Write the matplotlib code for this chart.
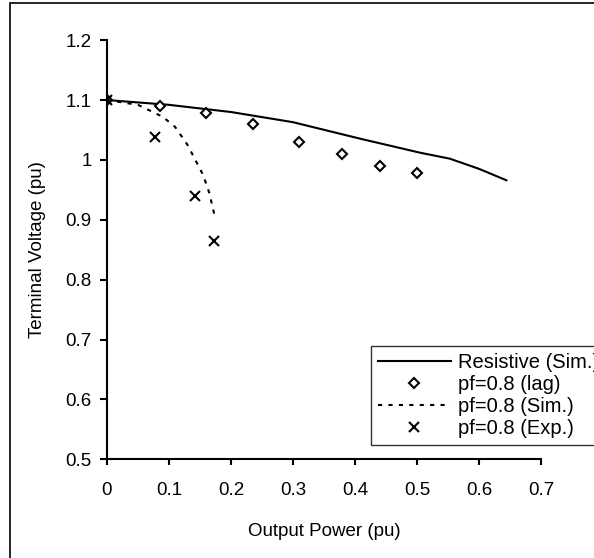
import matplotlib.pyplot as plt
from matplotlib.patches import Rectangle

plt.rcParams['font.family'] = ['Liberation Sans', 'DejaVu Sans']

# Resistive load, simulation
res_p = [0.0, 0.1, 0.2, 0.3, 0.41, 0.505, 0.553, 0.6, 0.644]
res_v = [1.1, 1.092, 1.08, 1.063, 1.035, 1.012, 1.002, 0.985, 0.966]

# pf = 0.8 lagging
lag_p = [0.0, 0.085, 0.16, 0.235, 0.31, 0.379, 0.44, 0.5]
lag_v = [1.1, 1.09, 1.078, 1.06, 1.03, 1.01, 0.99, 0.978]

# pf = 0.8 simulation
sim_p = [0.0, 0.05, 0.09, 0.11, 0.13, 0.145, 0.155, 0.165, 0.174]
sim_v = [1.1, 1.092, 1.072, 1.055, 1.025, 0.995, 0.975, 0.945, 0.905]

# pf = 0.8 experiment
exp_p = [0.0, 0.077, 0.142, 0.173]
exp_v = [1.1, 1.038, 0.94, 0.865]

x_ticks = [0, 0.1, 0.2, 0.3, 0.4, 0.5, 0.6, 0.7]
x_labels = ['0', '0.1', '0.2', '0.3', '0.4', '0.5', '0.6', '0.7']
y_ticks = [0.5, 0.6, 0.7, 0.8, 0.9, 1.0, 1.1, 1.2]
y_labels = ['0.5', '0.6', '0.7', '0.8', '0.9', '1', '1.1', '1.2']

fig = plt.figure(figsize=(5.94, 5.58), dpi=100)
ax = fig.add_axes([0.180, 0.177, 0.731, 0.751])

ax.plot(res_p, res_v, color='black', lw=1.5, label='Resistive (Sim.)')
ax.plot(lag_p, lag_v, linestyle='none', marker='D', markersize=5,
        markerfacecolor='white', markeredgecolor='black', markeredgewidth=1.5,
        label='pf=0.8 (lag)')
ax.plot(sim_p, sim_v, color='black', lw=1.5, linestyle=(0, (2, 3)),
        label='pf=0.8 (Sim.)')
ax.plot(exp_p, exp_v, linestyle='none', marker='x', markersize=7,
        markeredgecolor='black', markeredgewidth=1.5, label='pf=0.8 (Exp.)')

ax.set_xlim(0, 0.7)
ax.set_ylim(0.5, 1.2)
ax.set_xticks(x_ticks)
ax.set_xticklabels(x_labels)
ax.set_yticks(y_ticks)
ax.set_yticklabels(y_labels)
ax.spines['top'].set_visible(False)
ax.spines['right'].set_visible(False)
ax.spines['left'].set_linewidth(1.5)
ax.spines['bottom'].set_linewidth(1.5)
ax.tick_params(axis='x', direction='out', length=4.5, width=1.5,
               labelsize=13.5, pad=12)
ax.tick_params(axis='y', direction='out', length=5, width=1.5,
               labelsize=13.5, pad=6)
ax.set_xlabel('Output Power (pu)', fontsize=13.5, labelpad=17)
ax.set_ylabel('Terminal Voltage (pu)', fontsize=13.5, labelpad=14)

leg = ax.legend(loc='upper left', bbox_to_anchor=(371 / 594, 1 - 346 / 558),
                bbox_transform=fig.transFigure, fontsize=14.5, frameon=True,
                fancybox=False, edgecolor='black', handlelength=3.6,
                handletextpad=0.35, labelspacing=0.15, borderpad=0.35,
                borderaxespad=0)
leg.get_frame().set_linewidth(1.0)

# outer chart border, right and bottom edges fall outside the image
fig.patches.append(Rectangle((10 / 594, -10 / 558), 600 / 594, 565 / 558,
                             transform=fig.transFigure, fill=False,
                             edgecolor='black', lw=1.2))

fig.savefig('out.png', dpi=100)
